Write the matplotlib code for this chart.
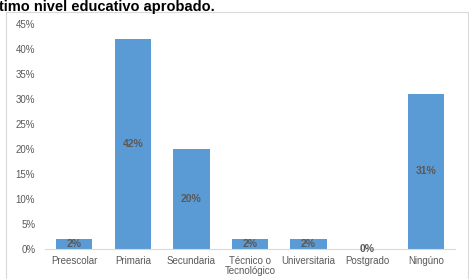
import numpy as np
import matplotlib.pyplot as plt
from matplotlib.patches import Rectangle

# data
categorias = ["Preescolar", "Primaria", "Secundaria", "Técnico o\nTecnológico",
              "Universitaria", "Postgrado", "Ningúno"]
porcentajes = [2, 42, 20, 2, 2, 0, 31]
etiquetas = ["2%", "42%", "20%", "2%", "2%", "0%", "31%"]
yticks = [0, 5, 10, 15, 20, 25, 30, 35, 40, 45]

plt.rcParams['font.family'] = ['Liberation Sans', 'DejaVu Sans']

fig = plt.figure(figsize=(4.69, 2.79), dpi=100)

# chart frame
fig.patches.append(Rectangle((6 / 469, -0.1), 462 / 469, 1.1 - 12 / 279,
                             transform=fig.transFigure, fill=False,
                             edgecolor='#d9d9d9', linewidth=0.8))

fig.text(-0.003, 0.999, "timo nivel educativo aprobado.", fontsize=10.5,
         fontweight='bold', ha='left', va='top', color='black')

ax = fig.add_axes([45 / 469, 30 / 279, 410 / 469, 225 / 279])
x = np.arange(len(categorias))
bars = ax.bar(x, porcentajes, width=0.62, color='#5b9bd5')

for xi, v, lab in zip(x, porcentajes, etiquetas):
    ax.text(xi, v / 2, lab, ha='center', va='center', fontsize=7.5,
            fontweight='bold', color='#595959')

ax.set_xlim(-0.5, len(categorias) - 0.5)
ax.set_ylim(0, 45)
ax.set_yticks(yticks)
ax.set_yticklabels([f"{t}%" for t in yticks])
ax.set_xticks(x)
ax.set_xticklabels(categorias, linespacing=1.0)
ax.tick_params(axis='both', length=0, labelsize=7, labelcolor='#595959')
ax.tick_params(axis='y', pad=7)
ax.tick_params(axis='x', pad=5)

for s in ['top', 'right', 'left']:
    ax.spines[s].set_visible(False)
ax.spines['bottom'].set_color('#d9d9d9')
ax.spines['bottom'].set_linewidth(0.8)

fig.savefig("out.png", dpi=100)
